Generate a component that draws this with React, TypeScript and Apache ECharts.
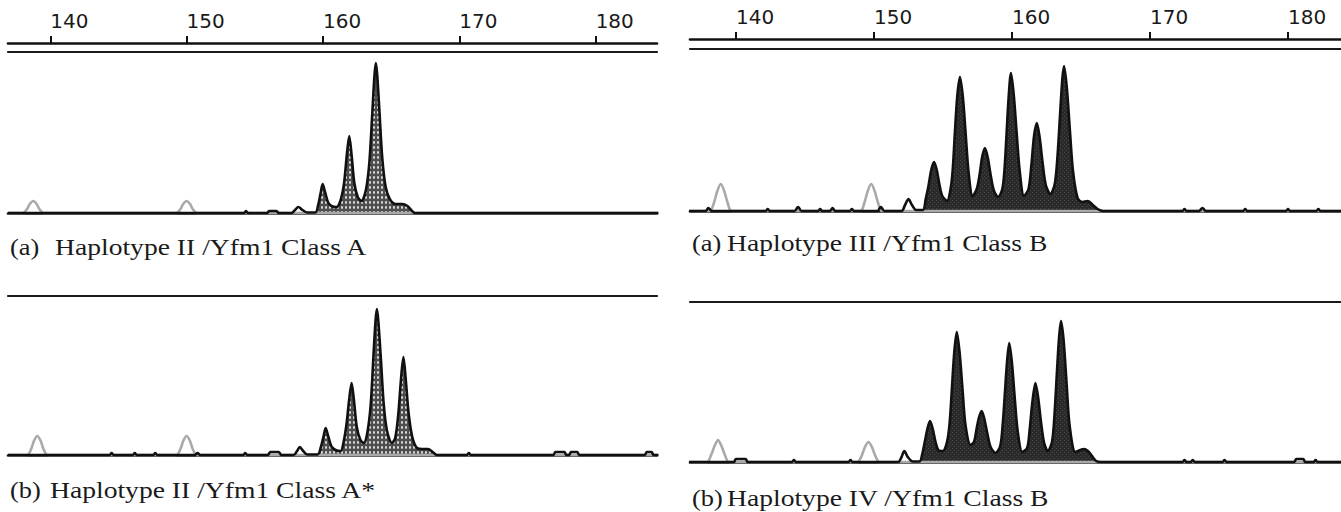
import React, { useEffect, useRef } from "react";
import * as echarts from "echarts";

// ---- axis ticks (bp) ----
const TICKS = [140, 150, 160, 170, 180];
const LEFT_RANGE = [136.9, 184.5];
const RIGHT_RANGE = [136.67, 183.84];

// ---- Left (a): Haplotype II / Yfm1 Class A ----
const LA_TRACE = [
  [136.9, 0], [154.2, 0], [154.36, 2], [154.5, 0], [155.9, 0], [156.05, 2], [156.6, 2], [156.75, 0],
  [157.7, 0], [157.95, 3], [158.2, 6], [158.5, 3], [158.85, 0.5], [159.45, 0.5],
  [159.65, 8], [159.83, 20], [159.98, 29], [160.15, 21], [160.4, 10], [160.7, 6.5], [161.0, 6],
  [161.3, 13], [161.55, 30], [161.75, 58], [161.93, 77], [162.1, 58], [162.3, 30], [162.55, 16], [162.83, 12],
  [163.15, 23], [163.4, 50], [163.62, 100], [163.78, 138], [163.88, 150], [163.98, 138], [164.15, 100],
  [164.35, 55], [164.6, 26], [164.9, 14], [165.3, 9], [165.8, 9], [166.2, 7], [166.5, 2.5], [166.75, 0],
  [184.6, 0],
];
const LA_STD = [
  [136.9, 0], [138.0, 0], [138.3, 4], [138.5, 9], [138.75, 12], [139.0, 9], [139.2, 4], [139.5, 0],
  [149.25, 0], [149.55, 4], [149.75, 9], [150.0, 12], [150.25, 9], [150.45, 4], [150.75, 0], [184.6, 0],
];
const LA_FILL = [159.45, 166.75];

// ---- Left (b): Haplotype II / Yfm1 Class A* ----
const LB_TRACE = [
  [136.9, 0], [144.35, 0], [144.5, 2], [144.65, 0], [146.05, 0], [146.2, 2], [146.35, 0],
  [147.55, 0], [147.7, 2], [147.85, 0], [150.6, 0], [150.8, 2], [151.0, 0], [154.15, 0], [154.3, 2], [154.45, 0],
  [155.95, 0], [156.15, 3], [156.75, 3], [156.95, 0], [157.85, 0], [158.1, 4], [158.3, 8], [158.55, 4],
  [158.85, 0.5], [159.6, 0.5],
  [159.85, 8], [160.05, 19], [160.2, 27], [160.38, 19], [160.65, 8], [161.0, 4.5], [161.3, 4],
  [161.5, 12], [161.72, 30], [161.92, 55], [162.1, 72], [162.27, 55], [162.48, 28], [162.75, 15], [163.0, 12],
  [163.25, 22], [163.5, 50], [163.7, 98], [163.86, 135], [163.96, 146], [164.06, 134], [164.25, 96],
  [164.45, 52], [164.7, 24], [165.05, 12],
  [165.3, 17], [165.52, 40], [165.72, 75], [165.9, 98], [166.07, 76], [166.28, 42], [166.55, 18],
  [166.9, 7], [167.3, 6], [167.7, 6], [168.05, 3], [168.35, 0],
  [170.55, 0], [170.7, 2], [170.85, 0], [176.9, 0], [177.05, 3], [177.7, 3], [177.85, 0],
  [178.05, 0], [178.2, 3], [178.65, 3], [178.8, 0], [183.6, 0], [183.75, 3], [184.1, 3], [184.25, 0], [184.6, 0],
];
const LB_STD = [
  [136.9, 0], [138.3, 0], [138.6, 6], [138.8, 14], [139.05, 19], [139.3, 14], [139.5, 6], [139.8, 0],
  [149.25, 0], [149.55, 6], [149.75, 14], [150.0, 19], [150.25, 14], [150.45, 6], [150.75, 0], [184.6, 0],
];
const LB_FILL = [159.6, 168.35];

// ---- Right (a): Haplotype III / Yfm1 Class B ----
const RA_TRACE = [
  [136.6, 0], [137.8, 0], [138.0, 3], [138.25, 0], [142.15, 0], [142.3, 2], [142.45, 0],
  [144.25, 0], [144.5, 4], [144.75, 0], [145.95, 0], [146.1, 2], [146.25, 0], [146.8, 0], [147.0, 3], [147.2, 0],
  [148.25, 0], [148.4, 2], [148.55, 0], [150.25, 0], [150.5, 4], [150.75, 0],
  [152.0, 0], [152.25, 6], [152.5, 12], [152.75, 6], [153.05, 1], [153.55, 1],
  [153.75, 12], [153.95, 25], [154.15, 41], [154.35, 49], [154.55, 41], [154.75, 26], [154.95, 15], [155.3, 10],
  [155.55, 22], [155.7, 40], [155.85, 75], [156.03, 114], [156.23, 134], [156.44, 114], [156.66, 74], [156.86, 38], [157.15, 15],
  [157.45, 22], [157.65, 36], [157.84, 54], [158.04, 63], [158.25, 53], [158.48, 34], [158.7, 20], [159.0, 14],
  [159.3, 22], [159.45, 40], [159.6, 75], [159.75, 112], [159.93, 138], [160.13, 116], [160.35, 76], [160.56, 40], [160.87, 15],
  [161.2, 22], [161.4, 45], [161.6, 75], [161.8, 88], [162.0, 74], [162.22, 48], [162.45, 26], [162.78, 17],
  [163.1, 27], [163.3, 55], [163.5, 100], [163.65, 132], [163.77, 145], [163.97, 124], [164.2, 80], [164.42, 40],
  [164.75, 13], [165.1, 9], [165.5, 10], [165.85, 6], [166.2, 2], [166.6, 0],
  [172.35, 0], [172.5, 2], [172.65, 0], [173.55, 0], [173.8, 3], [174.05, 0], [176.75, 0], [176.9, 2], [177.05, 0],
  [179.85, 0], [180.0, 2], [180.15, 0], [182.05, 0], [182.2, 2], [182.35, 0], [183.9, 0],
];
const RA_STD = [
  [136.6, 0], [138.1, 0], [138.4, 8], [138.65, 20], [138.9, 27], [139.15, 20], [139.4, 8], [139.7, 0],
  [149.0, 0], [149.3, 8], [149.55, 20], [149.8, 27], [150.05, 20], [150.3, 8], [150.6, 0], [183.9, 0],
];
const RA_FILL = [153.55, 166.6];

// ---- Right (b): Haplotype IV / Yfm1 Class B ----
const RB_TRACE = [
  [136.6, 0], [139.85, 0], [140.0, 3], [140.7, 3], [140.85, 0], [144.05, 0], [144.2, 2], [144.35, 0],
  [148.15, 0], [148.3, 2], [148.45, 0],
  [151.75, 0], [152.0, 5], [152.2, 11], [152.45, 5], [152.8, 0.5], [153.3, 0.5],
  [153.5, 8], [153.68, 20], [153.87, 33], [154.06, 41], [154.26, 33], [154.46, 20], [154.65, 12], [154.85, 11], [155.1, 12],
  [155.35, 24], [155.5, 42], [155.65, 74], [155.82, 110], [156.0, 130], [156.2, 110], [156.42, 72], [156.63, 37], [157.0, 17],
  [157.25, 20], [157.42, 32], [157.6, 44], [157.8, 51], [158.0, 43], [158.22, 28], [158.45, 15], [158.8, 9],
  [159.15, 16], [159.32, 36], [159.47, 65], [159.63, 98], [159.8, 119], [159.99, 100], [160.2, 64], [160.42, 30], [160.75, 10],
  [161.1, 14], [161.28, 32], [161.48, 60], [161.7, 79], [161.9, 64], [162.12, 38], [162.33, 19], [162.6, 11],
  [162.9, 20], [163.07, 45], [163.25, 88], [163.4, 122], [163.55, 141], [163.74, 122], [163.96, 78], [164.18, 36],
  [164.6, 10], [164.95, 12], [165.2, 13], [165.5, 11], [165.85, 5], [166.1, 1], [166.4, 0],
  [172.35, 0], [172.5, 2], [172.65, 0], [172.95, 0], [173.1, 2], [173.25, 0], [175.25, 0], [175.4, 2], [175.55, 0],
  [180.45, 0], [180.6, 3], [181.1, 3], [181.25, 0], [181.85, 0], [182.0, 2], [182.15, 0], [183.9, 0],
];
const RB_STD = [
  [136.6, 0], [137.9, 0], [138.2, 7], [138.45, 16], [138.7, 22], [138.95, 16], [139.2, 7], [139.5, 0],
  [148.8, 0], [149.1, 6], [149.35, 15], [149.6, 20], [149.85, 15], [150.1, 6], [150.4, 0], [183.9, 0],
];
const RB_FILL = [153.3, 166.4];

const TAGS = ["(a)", "(b)", "(a)", "(b)"];
const CAPTIONS = [
  "Haplotype II /Yfm1 Class A",
  "Haplotype II /Yfm1 Class A*",
  "Haplotype III /Yfm1 Class B",
  "Haplotype IV /Yfm1 Class B",
];

function makePattern(kind: "dots" | "dark") {
  const c = document.createElement("canvas");
  if (kind === "dots") {
    c.width = 4;
    c.height = 5;
    const g = c.getContext("2d")!;
    g.fillStyle = "#4e4e4e";
    g.fillRect(0, 0, 4, 5);
    g.fillStyle = "#e2e2e2";
    g.beginPath();
    g.ellipse(2, 2.5, 1.0, 1.4, 0, 0, Math.PI * 2);
    g.fill();
  } else {
    c.width = 4;
    c.height = 4;
    const g = c.getContext("2d")!;
    g.fillStyle = "#2a2a2a";
    g.fillRect(0, 0, 4, 4);
    g.fillStyle = "#474747";
    g.fillRect(0, 0, 1, 1);
    g.fillRect(2, 2, 1, 1);
  }
  return { image: c.toDataURL(), repeat: "repeat", imageWidth: c.width, imageHeight: c.height } as any;
}

export default function App() {
  const ref = useRef<HTMLDivElement>(null);
  useEffect(() => {
    if (!ref.current) return;
    const chart = echarts.init(ref.current, null, { renderer: "svg" });
    const dots = makePattern("dots");
    const dark = makePattern("dark");

    const panels = [
      { trace: LA_TRACE, std: LA_STD, fill: LA_FILL, color: dots, range: LEFT_RANGE, left: 8, right: 684, top: 52, height: 176, ymin: -15, ymax: 161, ruler: 9 },
      { trace: LB_TRACE, std: LB_STD, fill: LB_FILL, color: dots, range: LEFT_RANGE, left: 8, right: 684, top: 296, height: 174, ymin: -15, ymax: 159, ruler: 0 },
      { trace: RA_TRACE, std: RA_STD, fill: RA_FILL, color: dark, range: RIGHT_RANGE, left: 690, right: 0, top: 49, height: 178, ymin: -16, ymax: 162, ruler: 10 },
      { trace: RB_TRACE, std: RB_STD, fill: RB_FILL, color: dark, range: RIGHT_RANGE, left: 690, right: 0, top: 302, height: 175, ymin: -15, ymax: 160, ruler: 0 },
    ];

    const grid: any[] = [];
    const xAxis: any[] = [];
    const yAxis: any[] = [];
    const series: any[] = [];
    const ruleLine = { show: true, lineStyle: { color: "#1a1a1a", width: 2.6 } };

    panels.forEach((p, i) => {
      grid.push({ left: p.left, right: p.right, top: p.top, height: p.height });
      const mainIdx = xAxis.length;
      const base = {
        type: "value", gridIndex: i, min: p.range[0], max: p.range[1],
        splitLine: { show: false }, axisTick: { show: false }, axisLabel: { show: false },
      };
      xAxis.push({ ...base, position: "bottom", axisLine: ruleLine });
      xAxis.push({ ...base, position: "top", axisLine: { show: true, lineStyle: { color: "#1a1a1a", width: 2.2 } } });
      if (p.ruler) {
        xAxis.push({
          ...base,
          position: "top",
          offset: p.ruler,
          axisLine: { show: true, lineStyle: { color: "#111", width: 2.6 } },
          axisTick: { show: true, length: 7, lineStyle: { color: "#111", width: 2 }, customValues: TICKS },
          axisLabel: {
            show: true, customValues: TICKS, align: "left", margin: 12,
            fontFamily: "DejaVu Sans", fontSize: 20, color: "#1a1a1a",
          },
        });
      }
      yAxis.push({ type: "value", gridIndex: i, min: p.ymin, max: p.ymax, show: false, splitLine: { show: false } });
      const fillData = p.trace.filter((d) => d[0] >= p.fill[0] && d[0] <= p.fill[1]);
      series.push({
        type: "line", xAxisIndex: mainIdx, yAxisIndex: i, data: fillData, smooth: 0.3, symbol: "none",
        lineStyle: { width: 0, opacity: 0 }, areaStyle: { color: p.color, opacity: 1 }, z: 1, silent: true,
      });
      series.push({
        type: "line", xAxisIndex: mainIdx, yAxisIndex: i, data: p.std, smooth: 0.3, symbol: "none",
        lineStyle: { color: "#a9a9a9", width: 2.6 }, z: 2, silent: true,
      });
      series.push({
        type: "line", xAxisIndex: mainIdx, yAxisIndex: i, data: p.trace, smooth: 0.3, symbol: "none",
        lineStyle: { color: "#111", width: 2.6 }, z: 3, silent: true,
      });
    });

    const textPos = [
      { x: 10, cx: 55, y: 235 },
      { x: 10, cx: 50, y: 478 },
      { x: 692, cx: 727, y: 231 },
      { x: 692, cx: 727, y: 486 },
    ];
    const graphic: any[] = [];
    textPos.forEach((t, i) => {
      const font = { fontFamily: "Liberation Serif, serif", fontSize: 24, lineHeight: 24, fill: "#1a1a1a" };
      graphic.push({ type: "text", x: t.x, y: t.y, scaleX: 1.1, style: { text: TAGS[i], ...font } });
      graphic.push({ type: "text", x: t.cx, y: t.y, scaleX: 1.15, style: { text: CAPTIONS[i], ...font } });
    });

    chart.setOption({
      animation: false,
      backgroundColor: "#ffffff",
      grid, xAxis, yAxis, series, graphic,
    });
    return () => chart.dispose();
  }, []);
  return (
    <div
      ref={ref}
      style={{ position: "absolute", left: 0, top: 0, width: 1341, height: 512 }}
    />
  );
}
